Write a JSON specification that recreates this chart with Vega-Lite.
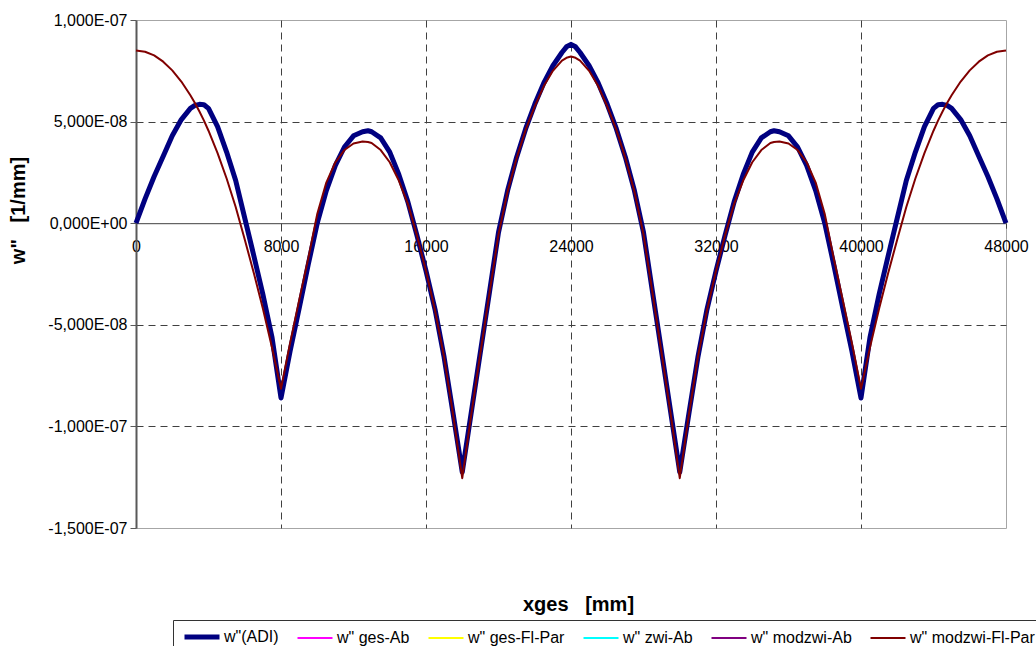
{
  "$schema": "https://vega.github.io/schema/vega-lite/v6.json",
  "width": 870,
  "height": 508,
  "autosize": {"type": "none"},
  "padding": {"left": 136, "top": 20, "right": 30, "bottom": 118},
  "background": "white",
  "config": {"font": "Liberation Sans", "view": {"stroke": "#a6a6a6", "strokeWidth": 1}},
  "data": {"values": [
    {"x": 0, "adi": 0, "fl": 8.5e-8},
    {"x": 500, "adi": 1.2e-8, "fl": 8.44e-8},
    {"x": 1000, "adi": 2.3e-8, "fl": 8.26e-8},
    {"x": 1500, "adi": 3.3e-8, "fl": 7.95e-8},
    {"x": 2000, "adi": 4.3e-8, "fl": 7.52e-8},
    {"x": 2500, "adi": 5.1e-8, "fl": 6.97e-8},
    {"x": 3000, "adi": 5.65e-8, "fl": 6.3e-8},
    {"x": 3250, "adi": 5.8e-8, "fl": 5.92e-8},
    {"x": 3500, "adi": 5.85e-8, "fl": 5.5e-8},
    {"x": 3750, "adi": 5.83e-8, "fl": 5.05e-8},
    {"x": 4000, "adi": 5.65e-8, "fl": 4.55e-8},
    {"x": 4500, "adi": 4.75e-8, "fl": 3.45e-8},
    {"x": 5000, "adi": 3.5e-8, "fl": 2.2e-8},
    {"x": 5500, "adi": 2.1e-8, "fl": 0.8e-8},
    {"x": 6000, "adi": 0.25e-8, "fl": -0.8e-8},
    {"x": 6500, "adi": -1.6e-8, "fl": -2.45e-8},
    {"x": 7000, "adi": -3.5e-8, "fl": -4.2e-8},
    {"x": 7500, "adi": -5.6e-8, "fl": -6.1e-8},
    {"x": 8000, "adi": -8.6e-8, "fl": -8.15e-8},
    {"x": 8500, "adi": -6.3e-8, "fl": -5.9e-8},
    {"x": 9000, "adi": -4.2e-8, "fl": -3.8e-8},
    {"x": 9500, "adi": -2.05e-8, "fl": -1.75e-8},
    {"x": 10000, "adi": 0, "fl": 0.45e-8},
    {"x": 10500, "adi": 1.6e-8, "fl": 2.0e-8},
    {"x": 11000, "adi": 2.85e-8, "fl": 3.0e-8},
    {"x": 11500, "adi": 3.75e-8, "fl": 3.6e-8},
    {"x": 12000, "adi": 4.3e-8, "fl": 3.92e-8},
    {"x": 12500, "adi": 4.5e-8, "fl": 4.02e-8},
    {"x": 12800, "adi": 4.55e-8, "fl": 4.0e-8},
    {"x": 13000, "adi": 4.5e-8, "fl": 3.95e-8},
    {"x": 13500, "adi": 4.2e-8, "fl": 3.6e-8},
    {"x": 14000, "adi": 3.5e-8, "fl": 3.0e-8},
    {"x": 14500, "adi": 2.4e-8, "fl": 2.1e-8},
    {"x": 15000, "adi": 1.05e-8, "fl": 0.95e-8},
    {"x": 15500, "adi": -0.6e-8, "fl": -0.6e-8},
    {"x": 16000, "adi": -2.35e-8, "fl": -2.35e-8},
    {"x": 16500, "adi": -4.25e-8, "fl": -4.3e-8},
    {"x": 17000, "adi": -6.6e-8, "fl": -6.6e-8},
    {"x": 17500, "adi": -9.4e-8, "fl": -9.45e-8},
    {"x": 18000, "adi": -12.25e-8, "fl": -12.55e-8},
    {"x": 18500, "adi": -9.3e-8, "fl": -9.4e-8},
    {"x": 19000, "adi": -6.35e-8, "fl": -6.4e-8},
    {"x": 19500, "adi": -3.4e-8, "fl": -3.45e-8},
    {"x": 20000, "adi": -0.45e-8, "fl": -0.55e-8},
    {"x": 20500, "adi": 1.6e-8, "fl": 1.55e-8},
    {"x": 21000, "adi": 3.25e-8, "fl": 3.2e-8},
    {"x": 21500, "adi": 4.65e-8, "fl": 4.6e-8},
    {"x": 22000, "adi": 5.85e-8, "fl": 5.75e-8},
    {"x": 22500, "adi": 6.9e-8, "fl": 6.75e-8},
    {"x": 23000, "adi": 7.75e-8, "fl": 7.5e-8},
    {"x": 23500, "adi": 8.4e-8, "fl": 8.0e-8},
    {"x": 23750, "adi": 8.68e-8, "fl": 8.14e-8},
    {"x": 24000, "adi": 8.8e-8, "fl": 8.2e-8},
    {"x": 24250, "adi": 8.68e-8, "fl": 8.14e-8},
    {"x": 24500, "adi": 8.4e-8, "fl": 8.0e-8},
    {"x": 25000, "adi": 7.75e-8, "fl": 7.5e-8},
    {"x": 25500, "adi": 6.9e-8, "fl": 6.75e-8},
    {"x": 26000, "adi": 5.85e-8, "fl": 5.75e-8},
    {"x": 26500, "adi": 4.65e-8, "fl": 4.6e-8},
    {"x": 27000, "adi": 3.25e-8, "fl": 3.2e-8},
    {"x": 27500, "adi": 1.6e-8, "fl": 1.55e-8},
    {"x": 28000, "adi": -0.45e-8, "fl": -0.55e-8},
    {"x": 28500, "adi": -3.4e-8, "fl": -3.45e-8},
    {"x": 29000, "adi": -6.35e-8, "fl": -6.4e-8},
    {"x": 29500, "adi": -9.3e-8, "fl": -9.4e-8},
    {"x": 30000, "adi": -12.25e-8, "fl": -12.55e-8},
    {"x": 30500, "adi": -9.4e-8, "fl": -9.45e-8},
    {"x": 31000, "adi": -6.6e-8, "fl": -6.6e-8},
    {"x": 31500, "adi": -4.25e-8, "fl": -4.3e-8},
    {"x": 32000, "adi": -2.35e-8, "fl": -2.35e-8},
    {"x": 32500, "adi": -0.6e-8, "fl": -0.6e-8},
    {"x": 33000, "adi": 1.05e-8, "fl": 0.95e-8},
    {"x": 33500, "adi": 2.4e-8, "fl": 2.1e-8},
    {"x": 34000, "adi": 3.5e-8, "fl": 3.0e-8},
    {"x": 34500, "adi": 4.2e-8, "fl": 3.6e-8},
    {"x": 35000, "adi": 4.5e-8, "fl": 3.95e-8},
    {"x": 35200, "adi": 4.55e-8, "fl": 4.0e-8},
    {"x": 35500, "adi": 4.5e-8, "fl": 4.02e-8},
    {"x": 36000, "adi": 4.3e-8, "fl": 3.92e-8},
    {"x": 36500, "adi": 3.75e-8, "fl": 3.6e-8},
    {"x": 37000, "adi": 2.85e-8, "fl": 3.0e-8},
    {"x": 37500, "adi": 1.6e-8, "fl": 2.0e-8},
    {"x": 38000, "adi": 0, "fl": 0.45e-8},
    {"x": 38500, "adi": -2.05e-8, "fl": -1.75e-8},
    {"x": 39000, "adi": -4.2e-8, "fl": -3.8e-8},
    {"x": 39500, "adi": -6.3e-8, "fl": -5.9e-8},
    {"x": 40000, "adi": -8.6e-8, "fl": -8.15e-8},
    {"x": 40500, "adi": -5.6e-8, "fl": -6.1e-8},
    {"x": 41000, "adi": -3.5e-8, "fl": -4.2e-8},
    {"x": 41500, "adi": -1.6e-8, "fl": -2.45e-8},
    {"x": 42000, "adi": 0.25e-8, "fl": -0.8e-8},
    {"x": 42500, "adi": 2.1e-8, "fl": 0.8e-8},
    {"x": 43000, "adi": 3.5e-8, "fl": 2.2e-8},
    {"x": 43500, "adi": 4.75e-8, "fl": 3.45e-8},
    {"x": 44000, "adi": 5.65e-8, "fl": 4.55e-8},
    {"x": 44250, "adi": 5.83e-8, "fl": 5.05e-8},
    {"x": 44500, "adi": 5.85e-8, "fl": 5.5e-8},
    {"x": 44750, "adi": 5.8e-8, "fl": 5.92e-8},
    {"x": 45000, "adi": 5.65e-8, "fl": 6.3e-8},
    {"x": 45500, "adi": 5.1e-8, "fl": 6.97e-8},
    {"x": 46000, "adi": 4.3e-8, "fl": 7.52e-8},
    {"x": 46500, "adi": 3.3e-8, "fl": 7.95e-8},
    {"x": 47000, "adi": 2.3e-8, "fl": 8.26e-8},
    {"x": 47500, "adi": 1.2e-8, "fl": 8.44e-8},
    {"x": 48000, "adi": 0, "fl": 8.5e-8}
  ]},
  "transform": [{"fold": ["adi", "fl"], "as": ["k", "w"]}],
  "encoding": {
    "x": {
      "field": "x",
      "type": "quantitative",
      "scale": {"domain": [0, 48000], "nice": false, "zero": false},
      "axis": {
        "orient": "bottom",
        "offset": -304.8,
        "values": [0, 8000, 16000, 24000, 32000, 40000, 48000],
        "format": "d",
        "labelFont": "Liberation Sans",
        "labelFontSize": 16,
        "labelColor": "black",
        "labelPadding": 10,
        "labelFlush": false,
        "labelOverlap": false,
        "labelBound": false,
        "tickSize": 5,
        "tickColor": "#404040",
        "domainColor": "#404040",
        "domainWidth": 1,
        "grid": true,
        "gridColor": "#404040",
        "gridDash": [7, 5],
        "gridOpacity": {"condition": {"test": "datum.value == 0 || datum.value == 48000", "value": 0}, "value": 1},
        "title": "xges\u00a0\u00a0\u00a0[mm]",
        "titleFont": "Liberation Sans",
        "titleFontSize": 20,
        "titleFontWeight": "bold",
        "titleColor": "black",
        "titleX": 442,
        "titleY": 380.8,
        "titleBaseline": "middle"
      }
    },
    "y": {
      "field": "w",
      "type": "quantitative",
      "scale": {"domain": [-1.5e-7, 1e-7], "nice": false, "zero": false},
      "axis": {
        "title": "w\"\u00a0\u00a0\u00a0[1/mm]",
        "titleFont": "Liberation Sans",
        "titleFontSize": 20,
        "titleFontWeight": "bold",
        "titleColor": "black",
        "titleX": -118,
        "titleY": 190,
        "titleAngle": -90,
        "titleAlign": "center",
        "titleBaseline": "middle",
        "values": [-1.5e-7, -1e-7, -5e-8, 0, 5e-8, 1e-7],
        "labelExpr": "replace(replace(replace(replace(replace(format(datum.value, '.3e'), '.', ','), 'e-7', 'E-07'), 'e-8', 'E-08'), 'e+0', 'E+00'), '\u2212', '-')",
        "labelFont": "Liberation Sans",
        "labelFontSize": 16,
        "labelColor": "black",
        "labelPadding": 3,
        "labelOverlap": false,
        "labelFlush": false,
        "labelBound": false,
        "tickSize": 6,
        "tickColor": "#595959",
        "domainColor": "#595959",
        "domainWidth": 2,
        "grid": true,
        "gridColor": "#404040",
        "gridDash": [7, 5],
        "gridOpacity": {"condition": {"test": "datum.value > 9e-8 || datum.value < -1.4e-7 || datum.value == 0", "value": 0}, "value": 1}
      }
    }
  },
  "layer": [
    {
      "transform": [{"filter": "datum.k == 'adi'"}],
      "mark": {"type": "line", "strokeWidth": 5, "strokeJoin": "round"},
      "encoding": {
        "color": {
          "datum": "w\"(ADI)",
          "type": "nominal",
          "scale": {
            "domain": ["w\"(ADI)", "w\" ges-Ab", "w\" ges-Fl-Par", "w\" zwi-Ab", "w\" modzwi-Ab", "w\" modzwi-Fl-Par"],
            "range": ["#000080", "#ff00ff", "#ffff00", "#00ffff", "#800080", "#800000"]
          },
          "legend": {
            "title": null,
            "orient": "none",
            "legendX": 37,
            "legendY": 600,
            "direction": "horizontal",
            "symbolType": "stroke",
            "symbolSize": 1225,
            "symbolStrokeWidth": 2,
            "symbolOpacity": 1,
            "symbolOffset": 12,
            "labelFont": "Liberation Sans",
            "labelFontSize": 16,
            "labelColor": "black",
            "labelOffset": 14,
            "columnPadding": 14,
            "padding": 9,
            "strokeColor": "#333333",
            "fillColor": "white",
            "encode": {"symbols": {"update": {"strokeWidth": {"signal": "datum.value === 'w\"(ADI)' ? 5 : 2"}}}}
          }
        }
      }
    },
    {
      "transform": [{"filter": "datum.k == 'fl'"}],
      "mark": {"type": "line", "strokeWidth": 2, "strokeJoin": "round"},
      "encoding": {
        "color": {"datum": "w\" modzwi-Fl-Par", "type": "nominal"}
      }
    }
  ]
}
